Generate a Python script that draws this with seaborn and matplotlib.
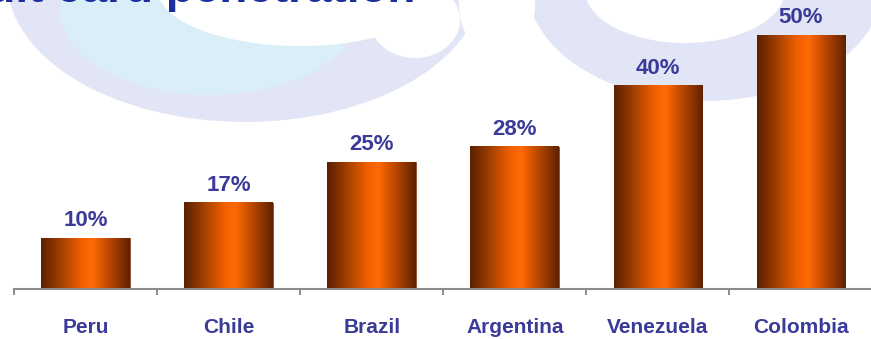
import numpy as np
import pandas as pd
import matplotlib
matplotlib.use("Agg")
import matplotlib.pyplot as plt
import seaborn as sns
from matplotlib.patches import Ellipse
from matplotlib.colors import LinearSegmentedColormap

countries = ["Peru", "Chile", "Brazil", "Argentina", "Venezuela", "Colombia"]
penetration = [10, 17, 25, 28, 40, 50]
value_labels = ["10%", "17%", "25%", "28%", "40%", "50%"]
title = "Credit card penetration"

df = pd.DataFrame({"country": countries, "pct": penetration})

sns.set_theme(style="white")
plt.rcParams["font.family"] = ["Liberation Sans", "DejaVu Sans"]

W, H = 871, 339
fig = plt.figure(figsize=(W / 100, H / 100), dpi=100, facecolor="white")

# faded logo swirl in the background (pixel coords, y from top)
def blob(cx, cy, rx, ry, color, alpha=1.0):
    fig.add_artist(Ellipse((cx, H - cy), 2 * rx, 2 * ry, facecolor=color,
                           edgecolor="none", alpha=alpha, transform=None, zorder=0))

# left ring
blob(245, -20, 238, 142, "#e2e5f6")
blob(210, 10, 150, 85, "#d8f2fa", 0.7)
blob(300, -10, 142, 56, "white")
blob(415, 20, 45, 38, "white")
# right ring
blob(705, -15, 178, 116, "#e2e5f6")
blob(685, -10, 100, 53, "white")
# gap between rings
blob(497, 5, 38, 50, "white")

ax = fig.add_axes([14 / W, 50 / H, 858.5 / W, 289 / H])
ax.set_facecolor("none")
ax.set_zorder(2)

sns.barplot(data=df, x="country", y="pct", width=0.62, ax=ax, saturation=1,
            color="#ff6600")

# cylinder-like shading on each bar
cmap = LinearSegmentedColormap.from_list("cyl", [
    (0.0, "#5a2000"), (0.2, "#9a3c00"), (0.45, "#f05f00"),
    (0.58, "#ff6a05"), (0.75, "#c24a00"), (1.0, "#5e2200")])
grad = np.linspace(0, 1, 256).reshape(1, -1)
for p in ax.patches:
    x0, w, h = p.get_x(), p.get_width(), p.get_height()
    ax.imshow(grad, cmap=cmap, aspect="auto", extent=[x0, x0 + w, 0, h],
              zorder=p.get_zorder(), interpolation="bicubic")
    p.set_facecolor("none")
    p.set_edgecolor("#7a3a10")
    p.set_linewidth(0.6)

ax.set_xlim(-0.5, 5.5)
ax.set_ylim(0, 289 / 5.08)

for i, (v, lab) in enumerate(zip(penetration, value_labels)):
    ax.annotate(lab, (i, v), xytext=(0, 8.6), textcoords="offset points",
                ha="center", va="baseline", fontsize=16, fontweight="bold",
                color="#3a3a98")

for s in ["top", "right", "left"]:
    ax.spines[s].set_visible(False)
ax.spines["bottom"].set_color("#8c8c8c")
ax.spines["bottom"].set_linewidth(1.5)

ax.set_yticks([])
ax.set_xticks(range(len(countries)))
ax.set_xticklabels(countries, fontsize=15, fontweight="bold", color="#3a3a98")
ax.set_xticks(np.arange(-0.5, 6.0, 1.0), minor=True)
ax.tick_params(axis="x", which="major", length=0, pad=21)
ax.tick_params(axis="x", which="minor", direction="out", length=4.5, width=1.4,
               color="#8c8c8c", bottom=True)
ax.set_xlabel("")
ax.set_ylabel("")

# title sits mostly above the top edge, as in the source slide crop
fig.text(415 / W, 1 - 1.5 / H, title, ha="right", va="baseline", fontsize=33,
         fontweight="bold", color="#1c2e9c")

fig.savefig("out.png", dpi=100, facecolor="white")
